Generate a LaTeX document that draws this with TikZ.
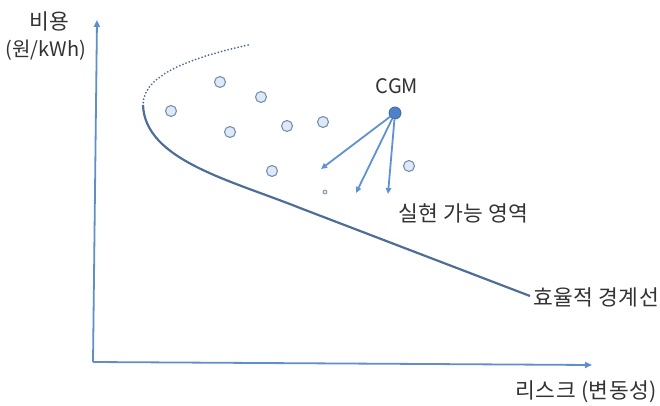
\documentclass[tikz,border=0pt]{standalone}
\usepackage{fontspec}
\setmainfont{Noto Sans CJK KR}
\usetikzlibrary{arrows.meta}
\definecolor{axisblue}{HTML}{5F8FC8}
\definecolor{curveblue}{HTML}{4E6E98}
\definecolor{ptfill}{HTML}{DCE9F6}
\definecolor{ptline}{HTML}{7A8FAE}
\definecolor{cgmfill}{HTML}{4D82C6}
\definecolor{arrblue}{HTML}{5E92D2}
\definecolor{txt}{HTML}{333333}
\begin{document}
\begin{tikzpicture}[x=1pt,y=-1pt,
  lbl/.style={font=\fontsize{20}{22}\selectfont, text=txt, inner sep=0pt},
  klbl/.style={font=\fontsize{21.5}{24}\selectfont\addfontfeatures{LetterSpace=2}, text=txt, inner sep=0pt},
  axisline/.style={draw=axisblue, line width=1.8pt, -{Triangle[length=7pt,width=6pt]}},
  frontier/.style={draw=curveblue, line width=2.2pt},
  frontierdots/.style={draw=curveblue, line width=2pt, line cap=round, dash pattern=on 0pt off 3.4pt},
  pt/.style={circle, draw=ptline, fill=ptfill, line width=1.1pt, minimum size=11pt, inner sep=0pt},
  cgmdot/.style={circle, draw=cgmfill!80!black, fill=cgmfill, line width=0.8pt, minimum size=12pt, inner sep=0pt},
  tinypt/.style={circle, draw=ptline, fill=ptfill, line width=0.8pt, minimum size=4pt, inner sep=0pt},
  move/.style={draw=arrblue, line width=1.8pt, -{Triangle[length=6pt,width=5.5pt]}}]
\useasboundingbox (0,0) rectangle (660,406);
% axes
\coordinate (O) at (93,362);
\coordinate (ytip) at (97,20);
\coordinate (xtip) at (592,365);
\draw[axisline] (O) -- (ytip);
\draw[axisline] (O) -- (xtip);
\node[klbl] (ylab1) at (49,21) {비용};
\node[lbl] (ylab2) at (46,50) {(원/kWh)};
\node[klbl, anchor=east] (xlab) at (657,392) {리스크 (변동성)};
% efficient frontier
\coordinate (fa) at (248,45);
\coordinate (fb) at (143,105);
\coordinate (fc) at (300,208);
\coordinate (fd) at (530,296);
\draw[frontierdots] (fa) .. controls (190,58) and (143,75) .. (fb);
\draw[frontier] (fb) .. controls (145,160) and (230,180) .. (fc) -- (fd);
\node[klbl, anchor=west] (flab) at (533,297) {효율적 경계선};
% portfolios
\node[pt] (p1) at (220,82) {};
\node[pt] (p2) at (171,111) {};
\node[pt] (p3) at (261,97) {};
\node[pt] (p4) at (230,132) {};
\node[pt] (p5) at (287,126) {};
\node[pt] (p6) at (323,122) {};
\node[pt] (p7) at (272,171) {};
\node[pt] (p8) at (409,166) {};
\node[tinypt] (p9) at (325,192) {};
% CGM
\node[cgmdot] (cgm) at (395,113) {};
\node[lbl] (cgmlab) at (397,86) {CGM};
\coordinate (t1) at (321,169);
\coordinate (t2) at (356,193);
\coordinate (t3) at (388,194);
\draw[move] (cgm) -- (t1);
\draw[move] (cgm) -- (t2);
\draw[move] (cgm) -- (t3);
\node[klbl, anchor=west] (feas) at (398,213) {실현 가능 영역};
\end{tikzpicture}
\end{document}
